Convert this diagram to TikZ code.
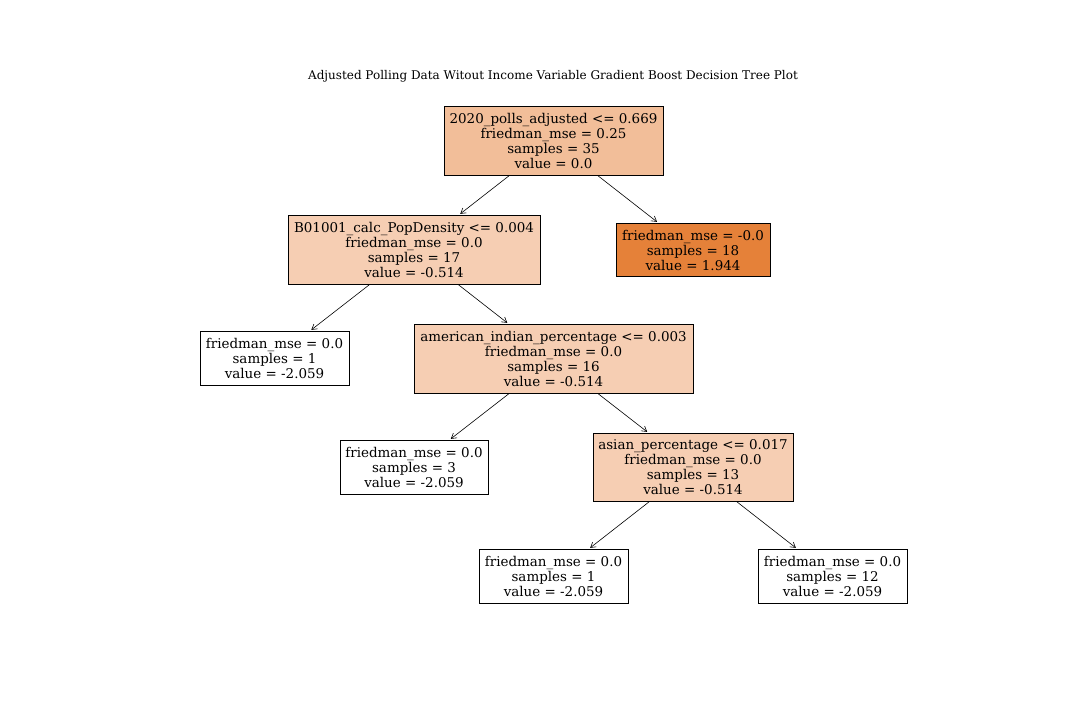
\documentclass[tikz,border=0pt]{standalone}
\usepackage{fontspec}
\setmainfont{DejaVu Serif}
\usetikzlibrary{arrows.meta}
\definecolor{splitA}{RGB}{242,190,153}
\definecolor{splitB}{RGB}{246,206,179}
\definecolor{leafHi}{RGB}{229,129,57}
\tikzset{
  treebox/.style={draw=black, line width=0.8pt, align=center, inner sep=0pt,
    font=\fontsize{13.45}{15}\selectfont},
  edge/.style={-{Straight Barb[length=5pt,width=6pt]}, line width=0.6pt, shorten >=2pt}
}
\begin{document}
\begin{tikzpicture}[x=1pt,y=-1pt]
\useasboundingbox (0,0) rectangle (1080,720);
\node[font=\fontsize{12}{14}\selectfont] (title) at (553,76)
  {Adjusted Polling Data Witout Income Variable Gradient Boost Decision Tree Plot};

\node[treebox, fill=splitA, minimum width=219, minimum height=69] (root) at (553.5,141)
  {2020\_polls\_adjusted <= 0.669\\friedman\_mse = 0.25\\samples = 35\\value = 0.0};
\node[treebox, fill=splitB, minimum width=252, minimum height=69] (pop) at (414,250)
  {B01001\_calc\_PopDensity <= 0.004\\friedman\_mse = 0.0\\samples = 17\\value = -0.514};
\node[treebox, fill=leafHi, minimum width=154, minimum height=53] (hi) at (693,250)
  {friedman\_mse = -0.0\\samples = 18\\value = 1.944};
\node[treebox, fill=white, minimum width=149, minimum height=54] (leafa) at (274.5,358.5)
  {friedman\_mse = 0.0\\samples = 1\\value = -2.059};
\node[treebox, fill=splitB, minimum width=279, minimum height=69] (amer) at (553.5,359)
  {american\_indian\_percentage <= 0.003\\friedman\_mse = 0.0\\samples = 16\\value = -0.514};
\node[treebox, fill=white, minimum width=148, minimum height=54] (leafb) at (414,467.5)
  {friedman\_mse = 0.0\\samples = 3\\value = -2.059};
\node[treebox, fill=splitB, minimum width=200, minimum height=68] (asian) at (693,467.5)
  {asian\_percentage <= 0.017\\friedman\_mse = 0.0\\samples = 13\\value = -0.514};
\node[treebox, fill=white, minimum width=149, minimum height=54] (leafc) at (553.5,576.5)
  {friedman\_mse = 0.0\\samples = 1\\value = -2.059};
\node[treebox, fill=white, minimum width=149, minimum height=54] (leafd) at (832.5,576.5)
  {friedman\_mse = 0.0\\samples = 12\\value = -2.059};

\draw[edge] (root) -- (pop);
\draw[edge] (root) -- (hi);
\draw[edge] (pop) -- (leafa);
\draw[edge] (pop) -- (amer);
\draw[edge] (amer) -- (leafb);
\draw[edge] (amer) -- (asian);
\draw[edge] (asian) -- (leafc);
\draw[edge] (asian) -- (leafd);
\end{tikzpicture}
\end{document}
